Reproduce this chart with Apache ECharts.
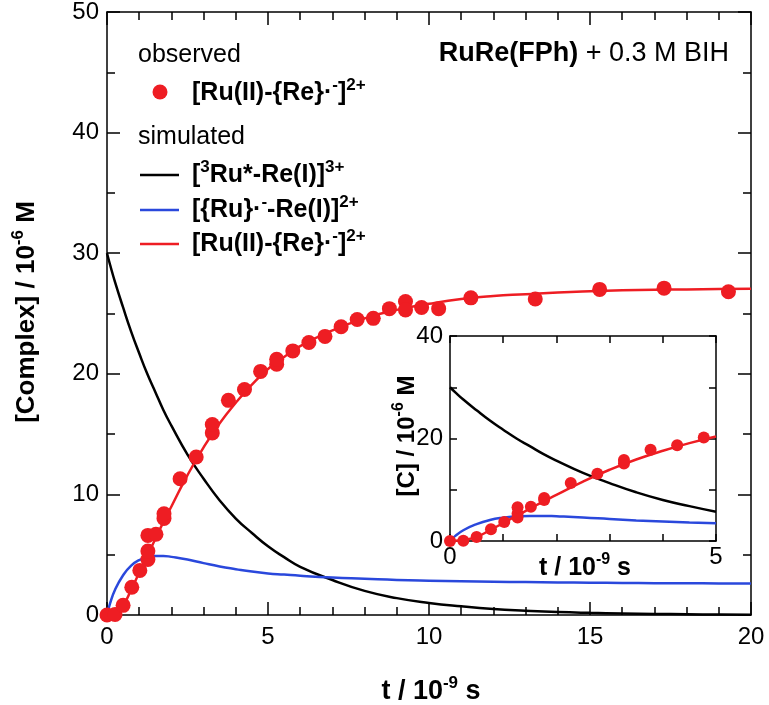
<!DOCTYPE html>
<html>
<head>
<meta charset="utf-8">
<script src="https://cdn.jsdelivr.net/npm/echarts@6/dist/echarts.min.js"></script>
<style>
html,body{margin:0;padding:0;background:#fff;}
#c{width:769px;height:705px;}
</style>
</head>
<body>
<div id="c"></div>
<script>
// ---- data ----
const obsT = [0,0.25,0.5,0.77,1.02,1.27,1.27,1.27,1.52,1.77,1.77,2.27,2.77,3.27,3.27,3.77,4.27,4.77,5.27,5.27,5.77,6.27,6.77,7.27,7.77,8.27,8.77,9.27,9.27,9.77,10.3,11.3,13.3,15.3,17.3,19.3];
const obsC = [0,0.05,0.8,2.3,3.7,4.6,5.3,6.6,6.7,8.0,8.4,11.3,13.1,15.1,15.8,17.8,18.7,20.2,20.8,21.2,21.9,22.6,23.1,23.9,24.5,24.6,25.4,26.0,25.3,25.5,25.4,26.3,26.2,27.0,27.1,26.8];

const simT = [0,0.1,0.25,0.5,0.75,1,1.25,1.5,1.75,2,2.5,3,3.5,4,4.5,5,5.5,6,7,8,9,10,11,12,13,14,15,16,17,18,19,20];
const simRuStar = [30,29.0,27.6,25.5,23.5,21.7,20.0,18.5,17.0,15.7,13.3,11.3,9.5,8.0,6.8,5.7,4.8,4.0,2.9,2.0,1.4,1.0,0.72,0.5,0.36,0.25,0.18,0.13,0.09,0.06,0.04,0.03];
const simRuRed = [0,1.0,2.1,3.3,4.1,4.55,4.8,4.9,4.9,4.82,4.6,4.3,4.02,3.8,3.6,3.45,3.35,3.25,3.1,3.0,2.9,2.84,2.8,2.76,2.73,2.7,2.68,2.66,2.64,2.63,2.62,2.61];
const simReRed = [0,0.05,0.2,0.8,2.1,3.5,4.9,6.3,7.7,9.0,11.6,13.9,15.9,17.6,19.1,20.4,21.4,22.3,23.6,24.6,25.3,25.8,26.2,26.45,26.6,26.75,26.85,26.92,26.97,27.0,27.03,27.05];

const insetXLabels = [0, 5];
const insetYLabels = [0, 20, 40];

// ---- styles ----
const FONT = "'Liberation Sans', Arial, Helvetica, sans-serif";
const RED = '#ee1d23';
const BLUE = '#2a48dc';
const BLACK = '#000000';

function supStyle(size, pad) {
  return { fontSize: size, fontWeight: 'bold', fontFamily: FONT, padding: [0, 0, pad, 0], fill: '#000', color: '#000' };
}

function pairs(xs, ys, maxX) {
  const out = [];
  for (let i = 0; i < xs.length; i++) {
    if (maxX === undefined || xs[i] <= maxX) out.push([xs[i], ys[i]]);
  }
  return out;
}

const chart = echarts.init(document.getElementById('c'), null, { renderer: 'canvas' });

function axisCommon(extra) {
  return Object.assign({
    axisLine: { show: true, onZero: false, lineStyle: { color: '#000', width: 1.5 } },
    splitLine: { show: false },
  }, extra);
}

const mainLabel = { color: '#000', fontSize: 24, fontFamily: FONT };
const insetLabel = { color: '#000', fontSize: 24, fontFamily: FONT };

function txt(x, y, text, opts) {
  opts = opts || {};
  return {
    type: 'text',
    x: x, y: y,
    rotation: opts.rotation || 0,
    z: 100,
    style: {
      text: text,
      fill: '#000',
      fontSize: opts.fontSize || 24,
      fontWeight: opts.fontWeight || 'normal',
      fontFamily: FONT,
      align: opts.align || 'left',
      verticalAlign: 'middle',
      textAlign: opts.align || 'left',
      textVerticalAlign: 'middle',
      rich: opts.rich || undefined
    }
  };
}

const legendRich = { s: supStyle(17, 16) };
const titleRich = { s: supStyle(17, 18) };
const insetRich = { s: supStyle(16, 16) };

const option = {
  animation: false,
  backgroundColor: '#fff',
  grid: [
    { left: 107, top: 10, width: 644, height: 605, containLabel: false },
    { left: 450, top: 336, width: 266, height: 205, containLabel: false, show: true, backgroundColor: '#fff', borderWidth: 0 }
  ],
  xAxis: [
    axisCommon({ gridIndex: 0, type: 'value', position: 'bottom', min: 0, max: 20, interval: 5,
      axisTick: { show: true, inside: true, length: 13, lineStyle: { color: '#000', width: 1.5 } },
      minorTick: { show: true, splitNumber: 5, length: 8, lineStyle: { color: '#000', width: 1.5 } },
      axisLabel: Object.assign({ margin: 10 }, mainLabel) }),
    axisCommon({ gridIndex: 0, type: 'value', position: 'top', min: 0, max: 20, interval: 5,
      axisTick: { show: true, inside: true, length: 13, lineStyle: { color: '#000', width: 1.5 } },
      minorTick: { show: true, splitNumber: 5, length: 8, lineStyle: { color: '#000', width: 1.5 } },
      axisLabel: { show: false } }),
    axisCommon({ gridIndex: 1, type: 'value', position: 'bottom', min: 0, max: 5, interval: 1,
      axisTick: { show: true, inside: true, length: 7, lineStyle: { color: '#000', width: 1.5 } },
      axisLabel: Object.assign({ margin: 4, formatter: v => insetXLabels.indexOf(v) >= 0 ? String(v) : '' }, insetLabel) }),
    axisCommon({ gridIndex: 1, type: 'value', position: 'top', min: 0, max: 5, interval: 1,
      axisTick: { show: true, inside: true, length: 7, lineStyle: { color: '#000', width: 1.5 } },
      axisLabel: { show: false } })
  ],
  yAxis: [
    axisCommon({ gridIndex: 0, type: 'value', position: 'left', min: 0, max: 50, interval: 10,
      axisTick: { show: true, inside: true, length: 13, lineStyle: { color: '#000', width: 1.5 } },
      minorTick: { show: true, splitNumber: 2, length: 8, lineStyle: { color: '#000', width: 1.5 } },
      axisLabel: Object.assign({ margin: 8 }, mainLabel) }),
    axisCommon({ gridIndex: 0, type: 'value', position: 'right', min: 0, max: 50, interval: 10,
      axisTick: { show: true, inside: true, length: 13, lineStyle: { color: '#000', width: 1.5 } },
      minorTick: { show: true, splitNumber: 2, length: 8, lineStyle: { color: '#000', width: 1.5 } },
      axisLabel: { show: false } }),
    axisCommon({ gridIndex: 1, type: 'value', position: 'left', min: 0, max: 40, interval: 10,
      axisTick: { show: true, inside: true, length: 7, lineStyle: { color: '#000', width: 1.5 } },
      axisLabel: Object.assign({ margin: 7, formatter: v => insetYLabels.indexOf(v) >= 0 ? String(v) : '' }, insetLabel) }),
    axisCommon({ gridIndex: 1, type: 'value', position: 'right', min: 0, max: 40, interval: 10,
      axisTick: { show: true, inside: true, length: 7, lineStyle: { color: '#000', width: 1.5 } },
      axisLabel: { show: false } })
  ],
  series: [
    { type: 'line', xAxisIndex: 0, yAxisIndex: 0, data: pairs(simT, simRuStar), smooth: true, showSymbol: false, symbol: 'none', lineStyle: { color: BLACK, width: 2.5 }, z: 3 },
    { type: 'line', xAxisIndex: 0, yAxisIndex: 0, data: pairs(simT, simRuRed), smooth: true, showSymbol: false, symbol: 'none', lineStyle: { color: BLUE, width: 2.5 }, z: 3 },
    { type: 'line', xAxisIndex: 0, yAxisIndex: 0, data: pairs(simT, simReRed), smooth: true, showSymbol: false, symbol: 'none', lineStyle: { color: RED, width: 2.5 }, z: 3 },
    { type: 'scatter', xAxisIndex: 0, yAxisIndex: 0, data: pairs(obsT, obsC), symbol: 'circle', symbolSize: 15, itemStyle: { color: RED, opacity: 1 }, z: 4 },

    { type: 'line', xAxisIndex: 2, yAxisIndex: 2, data: pairs(simT, simRuStar, 5), smooth: true, showSymbol: false, symbol: 'none', lineStyle: { color: BLACK, width: 2.5 }, z: 5 },
    { type: 'line', xAxisIndex: 2, yAxisIndex: 2, data: pairs(simT, simRuRed, 5), smooth: true, showSymbol: false, symbol: 'none', lineStyle: { color: BLUE, width: 2.5 }, z: 5 },
    { type: 'line', xAxisIndex: 2, yAxisIndex: 2, data: pairs(simT, simReRed, 5), smooth: true, showSymbol: false, symbol: 'none', lineStyle: { color: RED, width: 2.5 }, z: 5 },
    { type: 'scatter', xAxisIndex: 2, yAxisIndex: 2, data: pairs(obsT, obsC, 5), symbol: 'circle', symbolSize: 12, itemStyle: { color: RED, opacity: 1 }, z: 6 }
  ],
  graphic: [
    // axis titles
    txt(27, 312, '[Complex] / 10{s|-6} M', { fontWeight: 'bold', fontSize: 26, align: 'center', rotation: Math.PI / 2, rich: titleRich }),
    txt(431, 692, 't / 10{s|-9} s', { fontWeight: 'bold', fontSize: 27, align: 'center', rich: titleRich }),
    txt(407, 436, '[C] / 10{s|-6} M', { fontWeight: 'bold', align: 'center', rotation: Math.PI / 2, fontSize: 24, rich: insetRich }),
    txt(585, 568, 't / 10{s|-9} s', { fontWeight: 'bold', align: 'center', fontSize: 25, rich: insetRich }),
    // title
    txt(729, 54, '{b|RuRe(FPh)} + 0.3 M BIH', { align: 'right', fontSize: 27, rich: { b: { fontWeight: 'bold', fontSize: 27, fontFamily: FONT, fill: '#000' } } }),
    // legend
    txt(138, 55, 'observed', { fontSize: 25 }),
    { type: 'circle', shape: { cx: 160, cy: 92, r: 7.5 }, style: { fill: RED }, z: 100 },
    txt(192, 93, '[Ru(II)-{Re}\u00b7{s|-}]{s|2+}', { fontWeight: 'bold', fontSize: 25, rich: legendRich }),
    txt(138, 137, 'simulated', { fontSize: 25 }),
    { type: 'line', shape: { x1: 140, y1: 175, x2: 179, y2: 175 }, style: { stroke: BLACK, lineWidth: 2.5 }, z: 100 },
    txt(192, 175, '[{s|3}Ru*-Re(I)]{s|3+}', { fontWeight: 'bold', fontSize: 25, rich: legendRich }),
    { type: 'line', shape: { x1: 140, y1: 210, x2: 179, y2: 210 }, style: { stroke: BLUE, lineWidth: 2.5 }, z: 100 },
    txt(192, 210, '[{Ru}\u00b7{s|-}-Re(I)]{s|2+}', { fontWeight: 'bold', fontSize: 25, rich: legendRich }),
    { type: 'line', shape: { x1: 140, y1: 244, x2: 179, y2: 244 }, style: { stroke: RED, lineWidth: 2.5 }, z: 100 },
    txt(192, 244, '[Ru(II)-{Re}\u00b7{s|-}]{s|2+}', { fontWeight: 'bold', fontSize: 25, rich: legendRich })
  ]
};

chart.setOption(option);
</script>
</body>
</html>
